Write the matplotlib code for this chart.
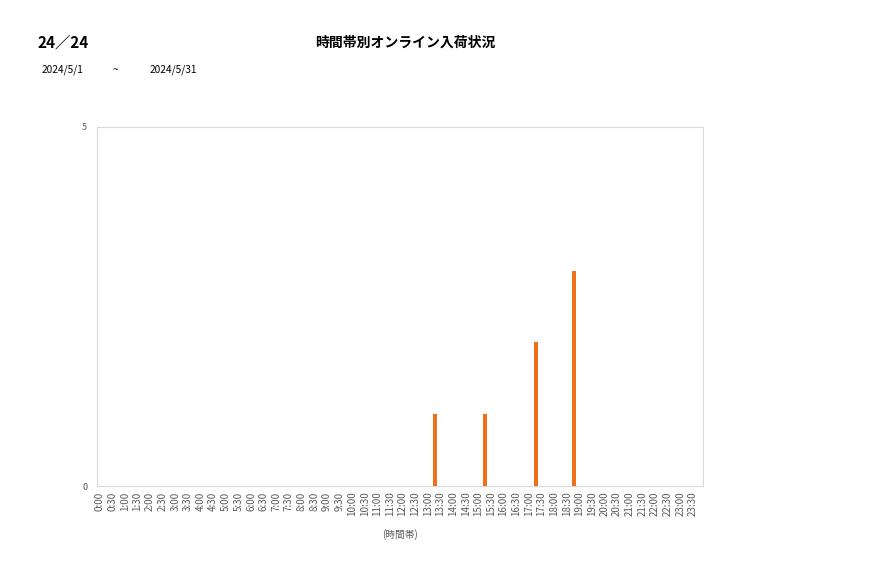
import matplotlib
matplotlib.use("Agg")
import matplotlib.pyplot as plt
import numpy as np

plt.rcParams['font.family'] = ['Noto Sans CJK JP', 'DejaVu Sans']

time_slots = [f"{h}:{m:02d}" for h in range(24) for m in (0, 30)]
arrivals = [0] * 48
arrival_values = {"13:00": 1, "15:00": 1, "17:00": 2, "18:30": 3}
for k, v in arrival_values.items():
    arrivals[time_slots.index(k)] = v

y_ticks = [0, 5]
title = "時間帯別オンライン入荷状況"
page_label = "24／24"
date_from = "2024/5/1"
date_to = "2024/5/31"
x_label = "(時間帯)"

W, H = 877, 578
fig = plt.figure(figsize=(W / 100, H / 100), dpi=100)
left, right, top, bottom = 97, 703, 127, 486
ax = fig.add_axes([left / W, 1 - bottom / H, (right - left) / W, (bottom - top) / H])

x = np.arange(len(time_slots))
ax.bar(x + 0.55, arrivals, width=0.32, color='#f07018', zorder=3)
ax.set_xlim(-0.2, 47.8)
ax.set_ylim(0, 5)
ax.set_yticks(y_ticks)
ax.set_yticklabels([str(t) for t in y_ticks], fontsize=6.5, color='#595959')
ax.set_xticks(x)
ax.set_xticklabels(time_slots, rotation=90, fontsize=7, color='#595959')
ax.tick_params(axis='y', length=0, pad=7)
ax.tick_params(axis='x', length=0, pad=4)
for s in ax.spines.values():
    s.set_color('#d9d9d9')
    s.set_linewidth(0.8)
ax.set_xlabel(x_label, fontsize=7, color='#595959', labelpad=9)

fig.text(37 / W, 1 - 43 / H, page_label, fontsize=11, fontweight='bold', va='center', ha='left')
fig.text(405 / W, 1 - 43 / H, title, fontsize=10, fontweight='bold', va='center', ha='center')
fig.text(42 / W, 1 - 70 / H, date_from, fontsize=7.3, va='center', ha='left')
fig.text(113 / W, 1 - 70 / H, "~", fontsize=7.3, va='center', ha='left')
fig.text(150 / W, 1 - 70 / H, date_to, fontsize=7.3, va='center', ha='left')

fig.savefig("out.png", dpi=100)
